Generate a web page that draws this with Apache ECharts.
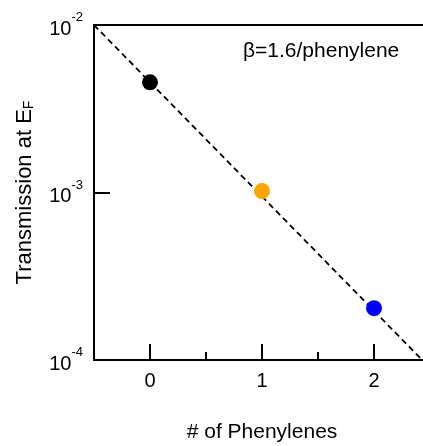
<!DOCTYPE html>
<html>
<head>
<meta charset="utf-8">
<script src="https://cdn.jsdelivr.net/npm/echarts@6/dist/echarts.min.js"></script>
<style>
  html, body { margin: 0; padding: 0; background: #fff; }
  #chart { width: 423px; height: 446px; }
</style>
</head>
<body>
<div id="chart"></div>
<script>
// Measured transmission at the Fermi level vs. number of phenylene units
const phenylenes = [0, 1, 2];
const transmission = [4.55e-3, 1.02e-3, 2.04e-4];
const pointColors = ['#000000', '#FFA500', '#0000FF'];

// Exponential decay fit, beta = 1.6 per phenylene (end points of the dashed line)
const fitX = [-0.5, 2.43];
const fitY = [1e-2, 1e-4];

// Axis ticks
const xMajorTicks = [0, 1, 2];
const xMinorTicks = [0.5, 1.5];
const yTicks = [1e-4, 1e-3, 1e-2];

const FONT = '"Liberation Sans", Arial, sans-serif';

const chart = echarts.init(document.getElementById('chart'), null, { renderer: 'canvas' });

const xBase = {
  type: 'value',
  min: -0.5,
  max: 2.5,
  interval: 0.5,
  splitLine: { show: false }
};

chart.setOption({
  animation: false,
  backgroundColor: '#fff',
  grid: {
    left: 94, top: 25, right: -7, bottom: 86,
    show: true, borderColor: '#000', borderWidth: 2,
    backgroundColor: 'transparent',
    containLabel: false,
    outerBoundsMode: 'none'
  },
  xAxis: [
    Object.assign({}, xBase, {
      name: '# of Phenylenes',
      nameLocation: 'middle',
      nameGap: 62,
      nameTextStyle: { fontFamily: FONT, fontSize: 21, color: '#000' },
      axisLine: { show: true, onZero: false, lineStyle: { color: '#000', width: 2 } },
      axisTick: { show: true, inside: true, length: 16, customValues: xMajorTicks,
                  lineStyle: { color: '#000', width: 2 } },
      axisLabel: { show: true, customValues: xMajorTicks, margin: 11,
                   fontFamily: FONT, fontSize: 20, color: '#000' }
    }),
    Object.assign({}, xBase, {
      position: 'bottom',
      axisLine: { show: false, onZero: false },
      axisTick: { show: true, inside: true, length: 8, customValues: xMinorTicks,
                  lineStyle: { color: '#000', width: 2 } },
      axisLabel: { show: false }
    })
  ],
  yAxis: {
    type: 'log',
    logBase: 10,
    min: 1e-4,
    max: 1e-2,
    position: 'left',
    splitLine: { show: false },
    minorTick: { show: false },
    axisLine: { show: true, onZero: false, lineStyle: { color: '#000', width: 2 } },
    axisTick: { show: true, inside: true, length: 16, customValues: yTicks,
                lineStyle: { color: '#000', width: 2 } },
    axisLabel: {
      show: true,
      customValues: yTicks,
      margin: 11,
      formatter: function (v) {
        const e = Math.round(Math.log10(v));
        return '{b|10}{s|' + e + '}';
      },
      rich: {
        b: { fontFamily: FONT, fontSize: 20, color: '#000', lineHeight: 28, verticalAlign: 'bottom' },
        s: { fontFamily: FONT, fontSize: 13, color: '#000', lineHeight: 28, verticalAlign: 'top' }
      }
    },
    name: '{t|Transmission at E}{f|F}',
    nameLocation: 'middle',
    nameRotate: 90,
    nameGap: 58,
    nameTextStyle: {
      rich: {
        t: { fontFamily: FONT, fontSize: 22, color: '#000', lineHeight: 28, verticalAlign: 'bottom' },
        f: { fontFamily: FONT, fontSize: 14, color: '#000', lineHeight: 28, verticalAlign: 'bottom' }
      }
    }
  },
  series: [
    {
      name: 'fit',
      type: 'line',
      data: fitX.map((x, i) => [x, fitY[i]]),
      symbol: 'none',
      lineStyle: { color: '#000', width: 1.8, type: [6, 4] },
      z: 2
    },
    {
      name: 'data',
      type: 'scatter',
      data: phenylenes.map((x, i) => ({
        value: [x, transmission[i]],
        itemStyle: { color: pointColors[i], opacity: 1 }
      })),
      symbolSize: 16,
      z: 3
    }
  ],
  graphic: [
    {
      type: 'text',
      left: 243,
      top: 41,
      style: { text: 'β=1.6/phenylene', fontFamily: FONT, fontSize: 21, fill: '#000' }
    }
  ]
});
</script>
</body>
</html>
